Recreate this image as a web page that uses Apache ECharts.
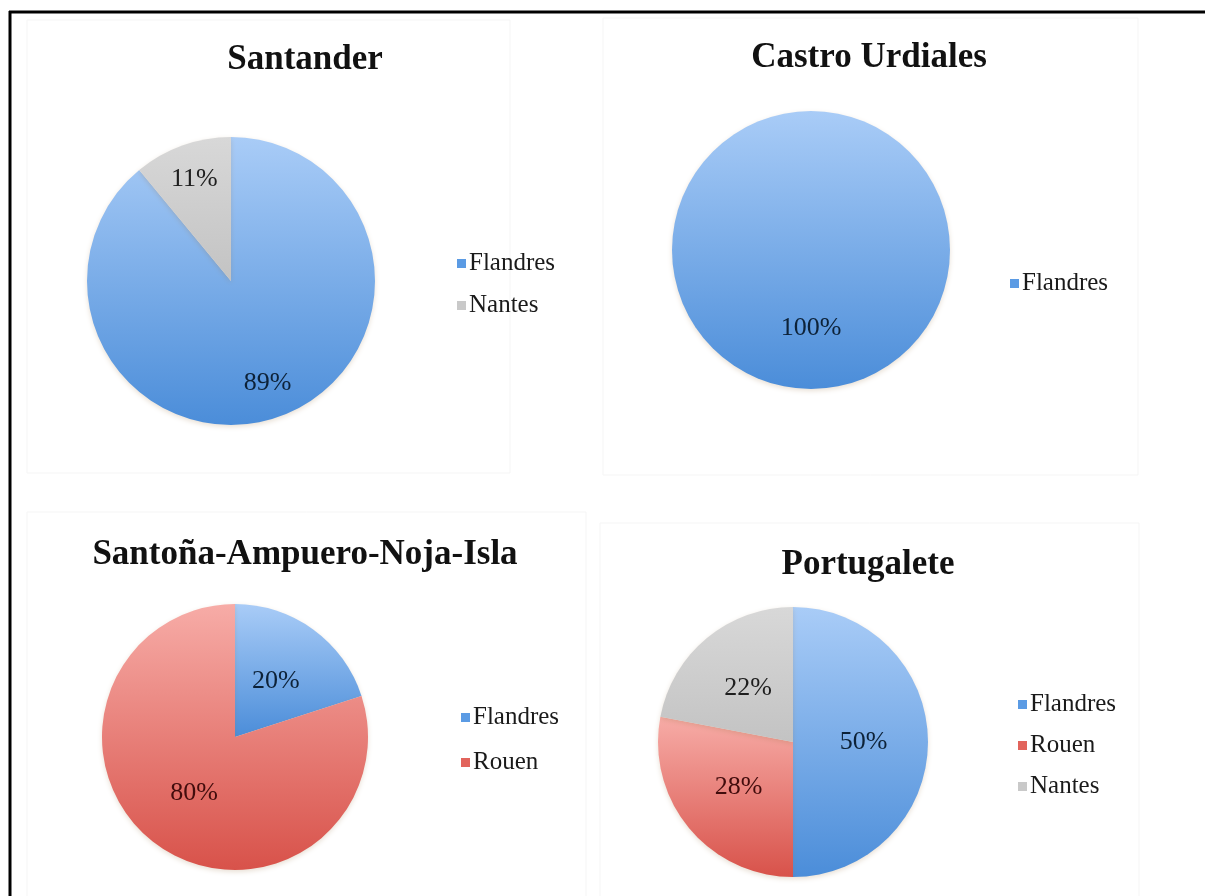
<!DOCTYPE html>
<html>
<head>
<meta charset="utf-8">
<script src="https://cdn.jsdelivr.net/npm/echarts@6/dist/echarts.min.js"></script>
<style>
  html, body { margin: 0; padding: 0; background: #fff; }
  #chart_example { width: 1205px; height: 896px; }
</style>
</head>
<body>
<div id="chart_example"></div>
<script>
// chart data
const titles = ["Santander", "Castro Urdiales", "Santoña-Ampuero-Noja-Isla", "Portugalete"];
const santanderNames = ["Flandres", "Nantes"];
const santanderValues = [89, 11];
const castroNames = ["Flandres"];
const castroValues = [100];
const santonaNames = ["Flandres", "Rouen"];
const santonaValues = [20, 80];
const portugaleteNames = ["Flandres", "Rouen", "Nantes"];
const portugaleteValues = [50, 28, 22];

const charts = [
  { names: santanderNames, values: santanderValues },
  { names: castroNames, values: castroValues },
  { names: santonaNames, values: santonaValues },
  { names: portugaleteNames, values: portugaleteValues },
];

// layout of each panel (pixels)
const layout = [
  { cx: 231, cy: 281, r: 144, labelR: 0.73, titleX: 305, titleY: 42, legendX: 457, legendY: 251, gap: 17 },
  { cx: 811, cy: 250, r: 139, labelR: 0.54, titleX: 869, titleY: 40, legendX: 1010, legendY: 271, gap: 17 },
  { cx: 235, cy: 737, r: 133, labelR: 0.5, titleX: 305, titleY: 537, legendX: 461, legendY: 705, gap: 20 },
  { cx: 793, cy: 742, r: 135, labelR: 0.5, titleX: 868, titleY: 547, legendX: 1018, legendY: 692, gap: 16 },
];

const gradColors = {
  Flandres: ["#a9ccf7", "#4b8dd9"],
  Rouen: ["#f7aca7", "#d8524a"],
  Nantes: ["#d8d8d8", "#c3c3c3"],
};
const solidColors = { Flandres: "#5b9be4", Rouen: "#e2645c", Nantes: "#c9c9c9" };
const labelColors = { Flandres: "#0d2238", Rouen: "#420c0c", Nantes: "#1e1e1e" };

function grad(name) {
  return new echarts.graphic.LinearGradient(0, 0, 0, 1, [
    { offset: 0, color: gradColors[name][0] },
    { offset: 1, color: gradColors[name][1] },
  ]);
}

let title = [];
let legend = [];
let series = [];

charts.forEach((c, i) => {
  const L = layout[i];
  title.push({
    text: titles[i],
    left: L.titleX,
    top: L.titleY,
    textAlign: "center",
    padding: 0,
    textStyle: { fontFamily: "Liberation Serif", fontWeight: "bold", fontSize: 35, color: "#111" },
  });
  legend.push({
    data: c.names.map((n) => ({ name: n, itemStyle: { color: solidColors[n] } })),
    orient: "vertical",
    left: L.legendX,
    top: L.legendY,
    padding: 0,
    icon: "rect",
    itemWidth: 9,
    itemHeight: 9,
    itemGap: L.gap,
    selectedMode: false,
    textStyle: { fontFamily: "Liberation Serif", fontSize: 25, color: "#1a1a1a", padding: [0, 0, 0, -2] },
  });
  // the pie itself
  series.push({
    type: "pie",
    center: [L.cx, L.cy],
    radius: [0, L.r],
    startAngle: 90,
    clockwise: true,
    silent: true,
    label: { show: false },
    labelLine: { show: false },
    itemStyle: {
      borderWidth: 0,
      shadowBlur: 5,
      shadowOffsetY: 2,
      shadowColor: "rgba(150,110,60,0.22)",
    },
    data: c.names.map((n, j) => ({ name: n, value: c.values[j], itemStyle: { color: grad(n) } })),
  });
  // transparent overlay that only carries the percentage labels
  series.push({
    type: "pie",
    center: [L.cx, L.cy],
    radius: [L.r * (2 * L.labelR - 1), L.r],
    startAngle: 90,
    clockwise: true,
    silent: true,
    itemStyle: { color: "rgba(0,0,0,0)" },
    labelLine: { show: false },
    label: {
      show: true,
      position: "inside",
      formatter: "{c}%",
      fontFamily: "Liberation Serif",
      fontSize: 26,
    },
    data: c.names.map((n, j) => ({
      name: n,
      value: c.values[j],
      label: { color: labelColors[n] },
    })),
  });
});

const myChart = echarts.init(document.getElementById("chart_example"));
const option = {
  backgroundColor: "#fff",
  animation: false,
  title: title,
  legend: legend,
  series: series,
  graphic: [
    // faint panel frames
    { type: "rect", shape: { x: 27, y: 20, width: 483, height: 453 }, style: { fill: null, stroke: "#f5f5f5", lineWidth: 1 }, silent: true },
    { type: "rect", shape: { x: 603, y: 18, width: 535, height: 457 }, style: { fill: null, stroke: "#f5f5f5", lineWidth: 1 }, silent: true },
    { type: "rect", shape: { x: 27, y: 512, width: 559, height: 400 }, style: { fill: null, stroke: "#f5f5f5", lineWidth: 1 }, silent: true },
    { type: "rect", shape: { x: 600, y: 523, width: 539, height: 390 }, style: { fill: null, stroke: "#f5f5f5", lineWidth: 1 }, silent: true },
    // black outer frame (top and left)
    { type: "line", shape: { x1: 9, y1: 12, x2: 1205, y2: 12 }, style: { stroke: "#000", lineWidth: 3 }, silent: true },
    { type: "line", shape: { x1: 10, y1: 11, x2: 10, y2: 896 }, style: { stroke: "#000", lineWidth: 3 }, silent: true },
  ],
};
myChart.setOption(option);
</script>
</body>
</html>
